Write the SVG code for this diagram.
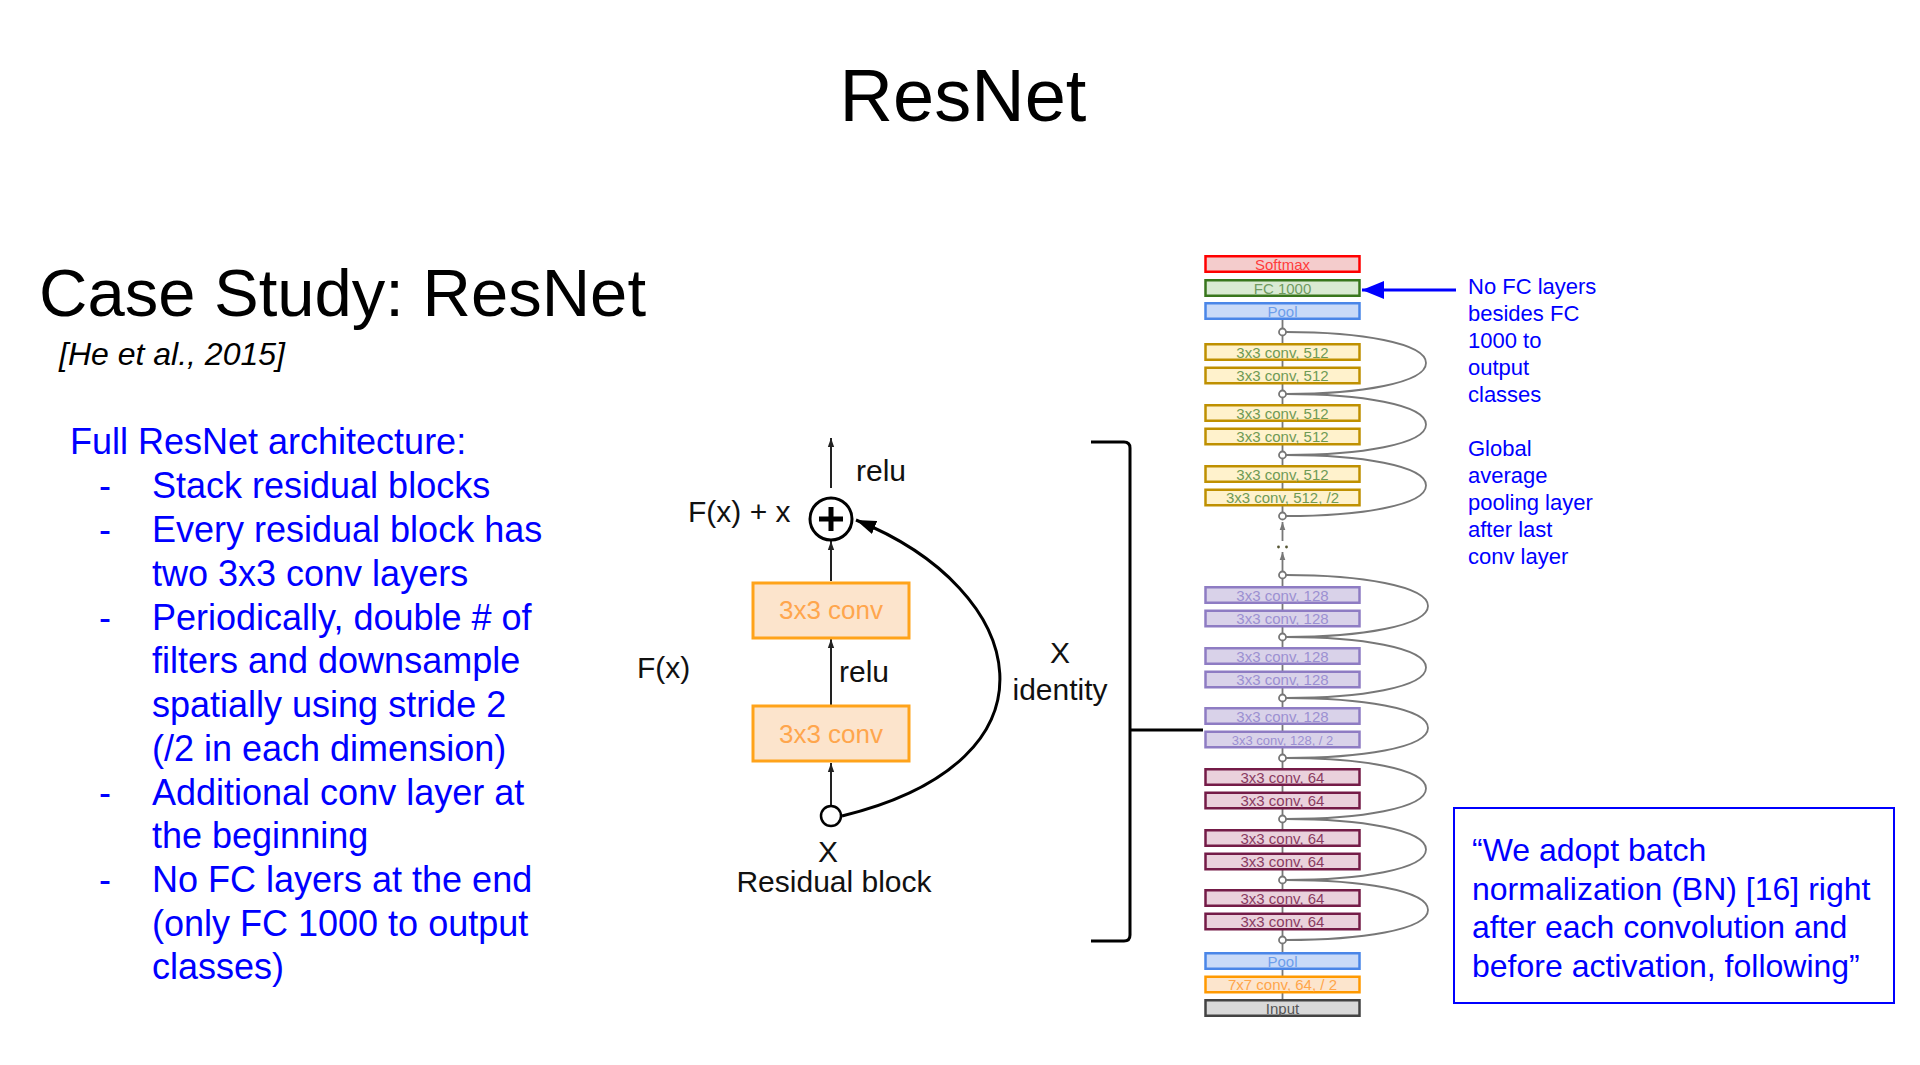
<svg xmlns="http://www.w3.org/2000/svg" width="1920" height="1065" viewBox="0 0 1920 1065">
<defs>
<style>
text{font-family:"Liberation Sans",Arial,sans-serif}
.blue{fill:#0000FF;font-size:36px}
.rb{fill:#111;font-size:30px}
.ly rect{stroke-width:2.5}
.ly text{font-size:15px;text-anchor:middle}
.sm rect{fill:#F4CCCC;stroke:#FF0000}.sm text{fill:#FF3C3C}
.fc rect{fill:#D9EAD3;stroke:#38761D}.fc text{fill:#6F9A5F}
.pl rect{fill:#C9DAF8;stroke:#4A86E8}.pl text{fill:#6D9EEB}
.c512 rect{fill:#FFF2CC;stroke:#BF9000}.c512 text{fill:#6F9A55}
.c128 rect{fill:#D9D2E9;stroke:#8E7CC3}.c128 text{fill:#9C90D2}
.c64 rect{fill:#EAD1DC;stroke:#741B47}.c64 text{fill:#8A3C62}
.c7 rect{fill:#FCE5CD;stroke:#FF9900}.c7 text{fill:#FFA54A}
.inp rect{fill:#D9D9D9;stroke:#434343}.inp text{fill:#555}
.skip{fill:none;stroke:#777;stroke-width:1.8}
.node{fill:#fff;stroke:#777;stroke-width:1.8}
.conn{stroke:#222;stroke-width:2;fill:none}
.rbox rect{fill:#FCE4CC;stroke:#FFA31A;stroke-width:3}
.rbox text{fill:#FFA64D;font-size:26px;text-anchor:middle}
</style>
<marker id="ah" viewBox="0 0 10 10" refX="10" refY="5" markerWidth="9" markerHeight="9" markerUnits="userSpaceOnUse" orient="auto"><path d="M0,1.5 L10,5 L0,8.5 z" fill="#222"/></marker>
<marker id="ahg" viewBox="0 0 10 10" refX="10" refY="5" markerWidth="8" markerHeight="8" markerUnits="userSpaceOnUse" orient="auto"><path d="M0,1.5 L10,5 L0,8.5 z" fill="#777"/></marker>
<marker id="ahb" viewBox="0 0 20 14" refX="20" refY="7" markerWidth="20" markerHeight="14" markerUnits="userSpaceOnUse" orient="auto"><path d="M0,0 L20,7 L0,14 z" fill="#000"/></marker>
<marker id="ahblue" viewBox="0 0 22 18" refX="22" refY="9" markerWidth="22" markerHeight="18" markerUnits="userSpaceOnUse" orient="auto"><path d="M0,0 L22,9 L0,18 z" fill="#0000FF"/></marker>
</defs>
<rect width="1920" height="1065" fill="#fff"/>

<g id="title"><text x="963" y="121" font-size="74" text-anchor="middle" fill="#000">ResNet</text></g>
<g id="heading">
<text x="39" y="316" font-size="67" fill="#000">Case Study: ResNet</text>
<text x="59" y="365" font-size="32" font-style="italic" fill="#000">[He et al., 2015]</text>
</g>

<g id="bullets">
<text class="blue" x="70" y="454">Full ResNet architecture:</text>
<text class="blue" x="99" y="498">-</text><text class="blue" x="152" y="498">Stack residual blocks</text>
<text class="blue" x="99" y="542">-</text><text class="blue" x="152" y="542">Every residual block has</text>
<text class="blue" x="152" y="586">two 3x3 conv layers</text>
<text class="blue" x="99" y="630">-</text><text class="blue" x="152" y="630">Periodically, double # of</text>
<text class="blue" x="152" y="673">filters and downsample</text>
<text class="blue" x="152" y="717">spatially using stride 2</text>
<text class="blue" x="152" y="761">(/2 in each dimension)</text>
<text class="blue" x="99" y="805">-</text><text class="blue" x="152" y="805">Additional conv layer at</text>
<text class="blue" x="152" y="848">the beginning</text>
<text class="blue" x="99" y="892">-</text><text class="blue" x="152" y="892">No FC layers at the end</text>
<text class="blue" x="152" y="936">(only FC 1000 to output</text>
<text class="blue" x="152" y="979">classes)</text>
</g>

<g id="residual-connectors">
<line class="conn" x1="831" y1="488" x2="831" y2="438" marker-end="url(#ah)"/>
<line class="conn" x1="831" y1="581" x2="831" y2="541" marker-end="url(#ah)"/>
<line class="conn" x1="831" y1="705" x2="831" y2="639" marker-end="url(#ah)"/>
<line class="conn" x1="831" y1="805" x2="831" y2="763" marker-end="url(#ah)"/>
<path d="M842 816 C1070 760 1030 590 856 520" fill="none" stroke="#000" stroke-width="3" marker-end="url(#ahb)"/>
</g>
<g id="plus-node">
<circle cx="831" cy="519" r="21" fill="#fff" stroke="#000" stroke-width="3"/>
<path d="M819 519 H843 M831 507 V531" stroke="#000" stroke-width="5"/>
</g>
<g id="input-node"><circle cx="831" cy="816" r="10" fill="#fff" stroke="#000" stroke-width="2.5"/></g>
<g id="conv-top" class="rbox"><rect x="753" y="583" width="156" height="55"/><text x="831" y="619">3x3 conv</text></g>
<g id="conv-bottom" class="rbox"><rect x="753" y="706" width="156" height="55"/><text x="831" y="743">3x3 conv</text></g>
<g id="residual-labels">
<text class="rb" x="856" y="481" font-size="29">relu</text>
<text class="rb" x="688" y="522">F(x) + x</text>
<text class="rb" x="839" y="682" font-size="29">relu</text>
<text class="rb" x="637" y="678">F(x)</text>
<text class="rb" x="1060" y="663" text-anchor="middle">X</text>
<text class="rb" x="1060" y="700" text-anchor="middle">identity</text>
<text class="rb" x="828" y="862" text-anchor="middle">X</text>
<text class="rb" x="834" y="892" text-anchor="middle" font-size="31">Residual block</text>
</g>

<g id="bracket">
<path d="M1091 442 L1124 442 Q1130 442 1130 448 L1130 935 Q1130 941 1124 941 L1091 941 M1130 730 L1203 730" fill="none" stroke="#000" stroke-width="3"/>
</g>

<g id="column-connectors">
<line x1="1282.5" y1="320" x2="1282.5" y2="516" stroke="#777" stroke-width="1.8"/>
<line x1="1282.5" y1="575" x2="1282.5" y2="1000" stroke="#777" stroke-width="1.8"/>
<line x1="1282.5" y1="541" x2="1282.5" y2="522" stroke="#777" stroke-width="1.8" marker-end="url(#ahg)"/>
<line x1="1282.5" y1="571" x2="1282.5" y2="552" stroke="#777" stroke-width="1.8" marker-end="url(#ahg)"/>
<circle cx="1278.5" cy="547" r="1.4" fill="#553"/><circle cx="1286.5" cy="547" r="1.4" fill="#553"/>
<path class="skip" d="M1286 332 C1360 332 1426 343 1426 363 C1426 383 1360 394 1286 394"/>
<path class="skip" d="M1286 394 C1360 394 1426 404.5 1426 424.5 C1426 444.5 1360 455 1286 455"/>
<path class="skip" d="M1286 455 C1360 455 1426 465.5 1426 485.5 C1426 505.5 1360 516 1286 516"/>
<path class="skip" d="M1286 575 C1360 575 1428 586 1428 606 C1428 626 1360 637 1286 637"/>
<path class="skip" d="M1286 637 C1360 637 1426 647.5 1426 667.5 C1426 687.5 1360 698 1286 698"/>
<path class="skip" d="M1286 698 C1360 698 1428 708 1428 728 C1428 748 1360 758 1286 758"/>
<path class="skip" d="M1286 758 C1360 758 1426 768.5 1426 788.5 C1426 808.5 1360 819 1286 819"/>
<path class="skip" d="M1286 819 C1360 819 1426 829.5 1426 849.5 C1426 869.5 1360 880 1286 880"/>
<path class="skip" d="M1286 880 C1360 880 1428 890 1428 910 C1428 930 1360 940 1286 940"/>
<line x1="1456" y1="290" x2="1362" y2="290" stroke="#0000FF" stroke-width="3" marker-end="url(#ahblue)"/>
</g>

<g id="layers" class="ly">
<g id="softmax" class="sm"><rect x="1205.5" y="256.25" width="154" height="15.5"/><text x="1282.5" y="269.5">Softmax</text></g>
<g id="fc1000" class="fc"><rect x="1205.5" y="280.25" width="154" height="15.5"/><text x="1282.5" y="293.5">FC 1000</text></g>
<g id="pool-top" class="pl"><rect x="1205.5" y="303.25" width="154" height="15.5"/><text x="1282.5" y="316.5">Pool</text></g>
<g id="c512-1" class="c512"><rect x="1205.5" y="344.25" width="154" height="15.5"/><text x="1282.5" y="357.5">3x3 conv, 512</text></g>
<g id="c512-2" class="c512"><rect x="1205.5" y="367.75" width="154" height="15.5"/><text x="1282.5" y="381">3x3 conv, 512</text></g>
<g id="c512-3" class="c512"><rect x="1205.5" y="405.25" width="154" height="15.5"/><text x="1282.5" y="418.5">3x3 conv, 512</text></g>
<g id="c512-4" class="c512"><rect x="1205.5" y="428.75" width="154" height="15.5"/><text x="1282.5" y="442">3x3 conv, 512</text></g>
<g id="c512-5" class="c512"><rect x="1205.5" y="466.25" width="154" height="15.5"/><text x="1282.5" y="479.5">3x3 conv, 512</text></g>
<g id="c512-6" class="c512"><rect x="1205.5" y="489.75" width="154" height="15.5"/><text x="1282.5" y="503">3x3 conv, 512, /2</text></g>
<g id="c128-1" class="c128"><rect x="1205.5" y="587.25" width="154" height="15.5"/><text x="1282.5" y="600.5">3x3 conv, 128</text></g>
<g id="c128-2" class="c128"><rect x="1205.5" y="610.75" width="154" height="15.5"/><text x="1282.5" y="624">3x3 conv, 128</text></g>
<g id="c128-3" class="c128"><rect x="1205.5" y="648.25" width="154" height="15.5"/><text x="1282.5" y="661.5">3x3 conv, 128</text></g>
<g id="c128-4" class="c128"><rect x="1205.5" y="671.75" width="154" height="15.5"/><text x="1282.5" y="685">3x3 conv, 128</text></g>
<g id="c128-5" class="c128"><rect x="1205.5" y="708.25" width="154" height="15.5"/><text x="1282.5" y="721.5">3x3 conv, 128</text></g>
<g id="c128-6" class="c128"><rect x="1205.5" y="731.75" width="154" height="15.5"/><text x="1282.5" y="744.5" style="font-size:13px">3x3 conv, 128, / 2</text></g>
<g id="c64-1" class="c64"><rect x="1205.5" y="769.25" width="154" height="15.5"/><text x="1282.5" y="782.5">3x3 conv, 64</text></g>
<g id="c64-2" class="c64"><rect x="1205.5" y="792.75" width="154" height="15.5"/><text x="1282.5" y="806">3x3 conv, 64</text></g>
<g id="c64-3" class="c64"><rect x="1205.5" y="830.25" width="154" height="15.5"/><text x="1282.5" y="843.5">3x3 conv, 64</text></g>
<g id="c64-4" class="c64"><rect x="1205.5" y="853.75" width="154" height="15.5"/><text x="1282.5" y="867">3x3 conv, 64</text></g>
<g id="c64-5" class="c64"><rect x="1205.5" y="890.25" width="154" height="15.5"/><text x="1282.5" y="903.5">3x3 conv, 64</text></g>
<g id="c64-6" class="c64"><rect x="1205.5" y="913.75" width="154" height="15.5"/><text x="1282.5" y="927">3x3 conv, 64</text></g>
<g id="pool-bottom" class="pl"><rect x="1205.5" y="953.25" width="154" height="15.5"/><text x="1282.5" y="966.5">Pool</text></g>
<g id="conv7" class="c7"><rect x="1205.5" y="976.75" width="154" height="15.5"/><text x="1282.5" y="990">7x7 conv, 64, / 2</text></g>
<g id="input" class="inp"><rect x="1205.5" y="1000.25" width="154" height="15.5"/><text x="1282.5" y="1013.5">Input</text></g>
</g>

<g id="merge-nodes">
<circle class="node" cx="1282.5" cy="332" r="3.5"/>
<circle class="node" cx="1282.5" cy="394" r="3.5"/>
<circle class="node" cx="1282.5" cy="455" r="3.5"/>
<circle class="node" cx="1282.5" cy="516" r="3.5"/>
<circle class="node" cx="1282.5" cy="575" r="3.5"/>
<circle class="node" cx="1282.5" cy="637" r="3.5"/>
<circle class="node" cx="1282.5" cy="698" r="3.5"/>
<circle class="node" cx="1282.5" cy="758" r="3.5"/>
<circle class="node" cx="1282.5" cy="819" r="3.5"/>
<circle class="node" cx="1282.5" cy="880" r="3.5"/>
<circle class="node" cx="1282.5" cy="940" r="3.5"/>
</g>

<g id="fc-note" fill="#0000FF" font-size="22">
<text x="1468" y="294">No FC layers</text>
<text x="1468" y="321">besides FC</text>
<text x="1468" y="348">1000 to</text>
<text x="1468" y="375">output</text>
<text x="1468" y="402">classes</text>
<text x="1468" y="456">Global</text>
<text x="1468" y="483">average</text>
<text x="1468" y="510">pooling layer</text>
<text x="1468" y="537">after last</text>
<text x="1468" y="564">conv layer</text>
</g>

<g id="quote">
<rect x="1454" y="808" width="440" height="195" fill="#fff" stroke="#0000FF" stroke-width="2"/>
<g fill="#0000FF" font-size="32">
<text x="1472" y="861">“We adopt batch</text>
<text x="1472" y="900">normalization (BN) [16] right</text>
<text x="1472" y="938">after each convolution and</text>
<text x="1472" y="977">before activation, following”</text>
</g>
</g>
</svg>
